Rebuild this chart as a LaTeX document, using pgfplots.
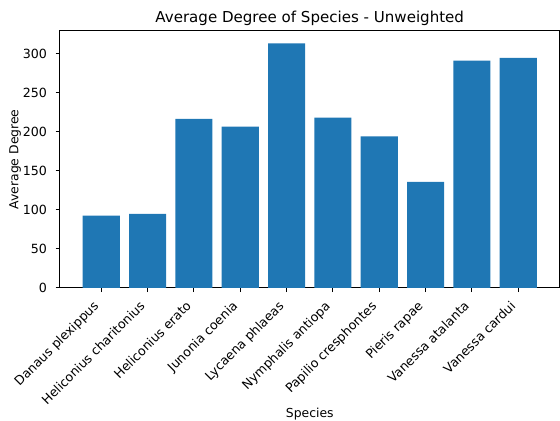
\documentclass[border=0pt]{standalone}
\usepackage{fontspec}
\setmainfont{DejaVu Sans}
\usepackage{pgfplots}
\pgfplotsset{compat=1.18}
\usetikzlibrary{calc}
\definecolor{mplblue}{HTML}{1F77B4}
\begin{document}
\begin{tikzpicture}
\begin{axis}[
  scale only axis,
  width=411.4pt, height=211.5pt,
  xmin=-0.89, xmax=9.89,
  ymin=0, ymax=329,
  ytick={0,50,100,150,200,250,300},
  xtick={0,...,9},
  xticklabels={Danaus plexippus,Heliconius charitonius,Heliconius erato,Junonia coenia,Lycaena phlaeas,Nymphalis antiopa,Papilio cresphontes,Pieris rapae,Vanessa atalanta,Vanessa cardui},
  xticklabel style={font=\fontsize{10.4}{12}\selectfont, inner sep=0pt, text height=7.7pt, text depth=2.3pt, xshift=-7.1pt, yshift=-6.6pt, rotate=45, anchor=north east},
  yticklabel style={font=\fontsize{10.4}{12}\selectfont, inner sep=0pt, anchor=east, xshift=-7pt},
  /pgf/number format/assume math mode=true,
  tick align=outside,
  major tick length=3.5pt,
  tick style={black, line width=0.8pt},
  axis line style={line width=0.8pt},
  xtick pos=bottom, ytick pos=left,
  every axis title shift=0pt,
  title={Average Degree of Species - Unweighted},
  title style={font=\fontsize{12.4}{14}\selectfont, at={(axis description cs:0.5,1.0506)}, anchor=center, inner sep=0pt},
  xlabel={Species},
  ylabel={Average Degree},
  xlabel style={font=\fontsize{10.2}{12}\selectfont, at={(axis description cs:0.5,-0.49)}, anchor=center, inner sep=0pt},
  ylabel style={font=\fontsize{10.2}{12}\selectfont, at={(axis description cs:-0.09,0.5)}, anchor=center, inner sep=0pt},
]
\addplot[ybar, bar width=0.8, fill=mplblue, draw=none] coordinates {
 (0,92.3) (1,94.8) (2,216.5) (3,206.5) (4,313) (5,218) (6,193.8) (7,135.5) (8,291) (9,294.5)
};
\end{axis}
\pgfresetboundingbox
\path[use as bounding box] ($(current axis.south west)+(-49.4pt,-109.5pt)$) rectangle ($(current axis.north east)+(0.4pt,25.5pt)$);
\end{tikzpicture}
\end{document}
